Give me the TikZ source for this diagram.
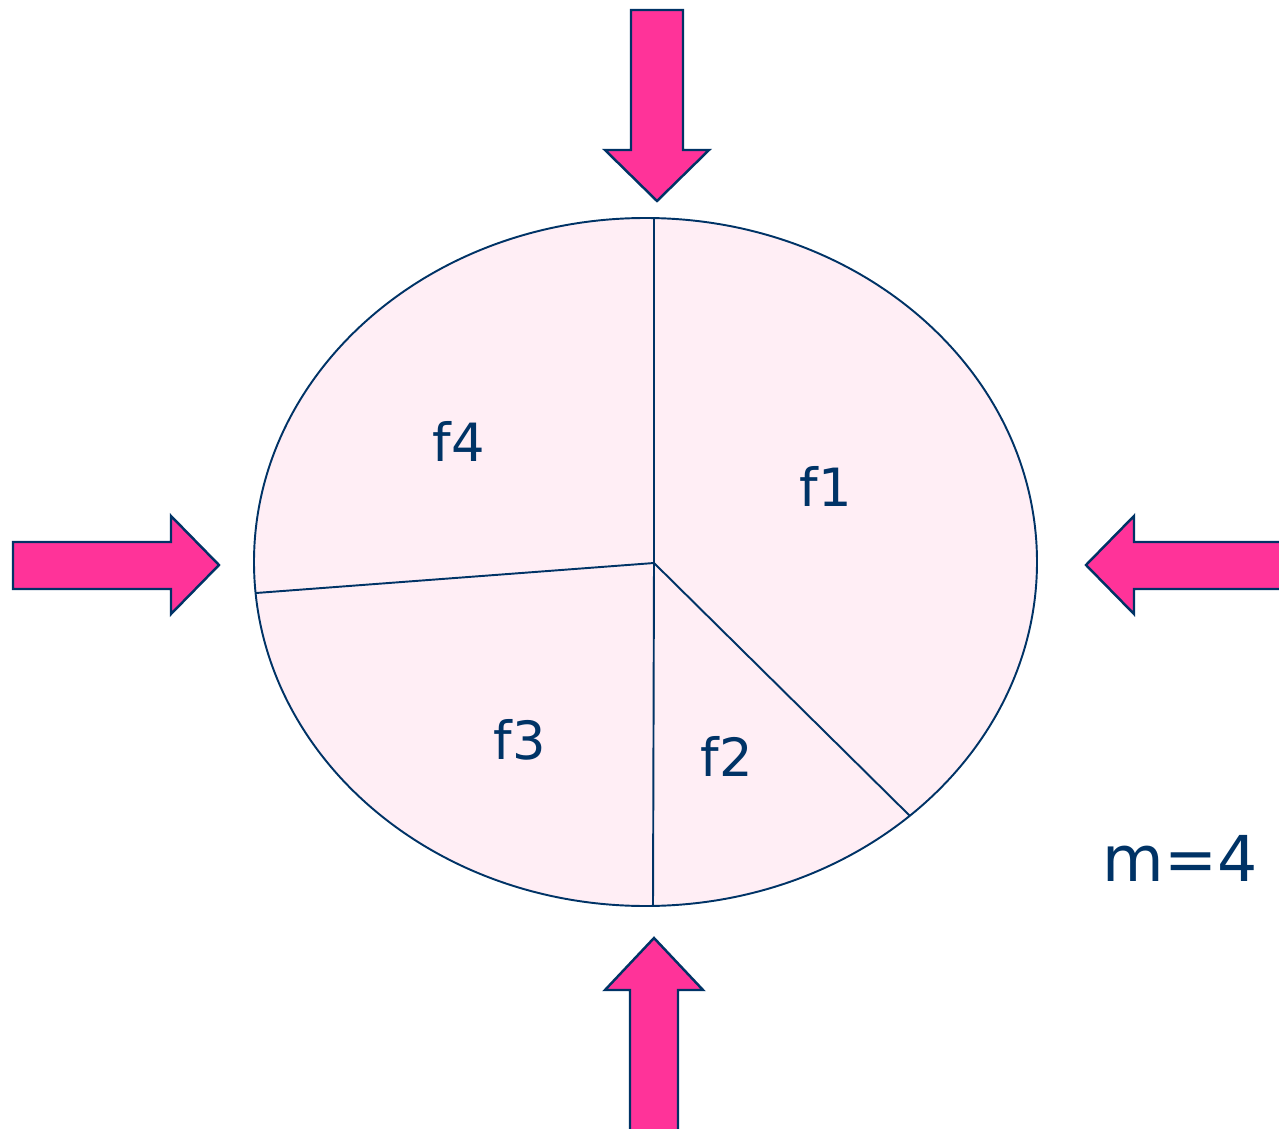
\documentclass[tikz,border=0pt]{standalone}
\usepackage{fontspec}
\setmainfont{DejaVu Sans}
\usepackage{xcolor}
\definecolor{inkblue}{HTML}{003366}
\definecolor{forcepink}{HTML}{FF3399}
\definecolor{discpink}{HTML}{FFEEF5}

\begin{document}
\begin{tikzpicture}[
    x=0.02cm, y=-0.02cm,
    disc/.style={draw=inkblue, line width=1.1pt, fill=discpink},
    cut/.style={draw=inkblue, line width=1.1pt},
    push/.style={draw=inkblue, line width=1.4pt, fill=forcepink, line join=miter},
    lbl/.style={text=inkblue, font=\fontsize{30}{30}\selectfont, inner sep=0pt}
  ]
    \useasboundingbox (0,0) rectangle (1279,1129);

    % the disc and its four parts
    \draw[disc] (645.5,562) ellipse [x radius=391.5, y radius=344];
    \coordinate (mid) at (654,563);
    \coordinate (top) at (654,218);
    \coordinate (bot) at (653,906);
    \coordinate (lft) at (256,593);
    \coordinate (rgt) at (910,816);
    \draw[cut] (top) -- (mid) -- (bot);
    \draw[cut] (lft) -- (mid) -- (rgt);

    \node[lbl] (f1) at (826,486) {f1};
    \node[lbl] (f2) at (727,756) {f2};
    \node[lbl] (f3) at (520,740) {f3};
    \node[lbl] (f4) at (459,441) {f4};
    \node[lbl, font=\fontsize{36}{36}\selectfont] (m) at (1180,858) {m=4};

    % forces from four sides
    \draw[push] (631,10) -- (683,10) -- (683,150) -- (709,150) -- (657,201)
      -- (605,150) -- (631,150) -- cycle;
    \draw[push] (630,1135) -- (630,990) -- (605,990) -- (654,938)
      -- (703,990) -- (678,990) -- (678,1135);
    \draw[push] (13,542) -- (171,542) -- (171,516) -- (219,565) -- (171,614)
      -- (171,589) -- (13,589) -- cycle;
    \draw[push] (1285,542) -- (1134,542) -- (1134,516) -- (1086,565)
      -- (1134,614) -- (1134,589) -- (1285,589);
  \end{tikzpicture}
\end{document}
